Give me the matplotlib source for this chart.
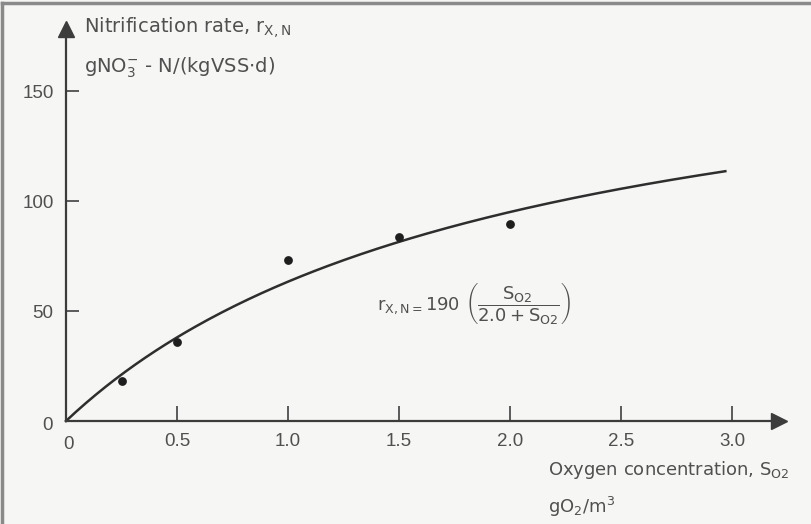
import matplotlib.pyplot as plt
import numpy as np

# measured points (oxygen gO2/m3, nitrification rate)
oxygen = [0.25, 0.5, 1.0, 1.5, 2.0]
rate = [18.2, 35.9, 73.2, 83.8, 89.5]

# model printed on the figure: r = r_max * S / (K + S)
r_max = 190.0
k_o2 = 2.0
s_end = 2.97

x_ticks = [0.5, 1.0, 1.5, 2.0, 2.5, 3.0]
x_tick_labels = ["0.5", "1.0", "1.5", "2.0", "2.5", "3.0"]
y_ticks = [50, 100, 150]

plt.rcParams["font.family"] = ["Liberation Sans", "DejaVu Sans"]
plt.rcParams["mathtext.fontset"] = "custom"
plt.rcParams["mathtext.rm"] = "DejaVu Sans"
plt.rcParams["mathtext.it"] = "DejaVu Sans"
plt.rcParams["mathtext.bf"] = "DejaVu Sans:bold"

ink = "#505050"
bg = "#f6f6f4"
axis_col = "#3c3c3c"
lab = dict(family="DejaVu Sans", fontsize=14, color=ink, va="baseline")

fig = plt.figure(figsize=(8.11, 5.24), dpi=100, facecolor=bg)
ax = fig.add_axes([0, 0, 1, 1])
ax.set_facecolor(bg)

# pixel mapping: x 0 -> 66px, 222 px/unit ; y 0 -> 421px from top, 2.2 px/unit
ax.set_xlim(-66 / 222, (811 - 66) / 222)
ax.set_ylim(-(524 - 421) / 2.2, 421 / 2.2)

for side in ["top", "right"]:
    ax.spines[side].set_visible(False)
ax.spines["left"].set_position(("data", 0))
ax.spines["bottom"].set_position(("data", 0))
ax.spines["left"].set_bounds(0, 175)
ax.spines["bottom"].set_bounds(0, 3.19)
for side in ["left", "bottom"]:
    ax.spines[side].set_color(axis_col)
    ax.spines[side].set_linewidth(1.6)
ax.plot(3.21, 0, marker=">", markersize=11, color=axis_col, clip_on=False)
ax.plot(0, 178, marker="^", markersize=11, color=axis_col, clip_on=False)

ax.set_xticks(x_ticks)
ax.set_xticklabels(x_tick_labels)
ax.set_yticks(y_ticks)
ax.tick_params(axis="x", direction="in", length=11, width=1.4, color="#5a5a5a",
               labelsize=13.5, labelcolor=ink, pad=9)
ax.tick_params(axis="y", direction="in", length=9, width=1.4, color="#5a5a5a",
               labelsize=13.5, labelcolor=ink, pad=9)
ax.text(0.01, -7, "0", ha="center", va="top", fontsize=13.5, color=ink)
ax.text(-0.06, -2, "0", ha="right", va="center", fontsize=13.5, color=ink)

s = np.linspace(0, s_end, 200)
ax.plot(s, r_max * s / (k_o2 + s), color="#2e2e2e", linewidth=1.8)
ax.scatter(oxygen, rate, s=28, color="#1e1e1e", zorder=3)

ax.text(0.081, 176.4, r"Nitrification rate, r$_{X,N}$", **lab)
ax.text(0.081, 158.2, r"gNO$_3^{-}$ - N/(kgVSS$\cdot$d)", **lab)
ax.text(2.17, -24.5, r"Oxygen concentration, S$_{O2}$",
        family="DejaVu Sans", fontsize=13, color=ink, va="baseline")
ax.text(2.17, -42, r"gO$_2$/m$^3$",
        family="DejaVu Sans", fontsize=13, color=ink, va="baseline")
ax.text(1.40, 50.5, r"r$_{X,N=}$190 $\left(\dfrac{S_{O2}}{2.0+S_{O2}}\right)$",
        family="DejaVu Sans", fontsize=13, color=ink, va="baseline")

# scan frame on left and top edges
fig.add_artist(plt.Line2D([0.003, 0.003], [0, 0.995], transform=fig.transFigure,
                          color="#8a8a8a", linewidth=2.5))
fig.add_artist(plt.Line2D([0.003, 1], [0.995, 0.995], transform=fig.transFigure,
                          color="#8a8a8a", linewidth=2.5))

fig.savefig("out.png", dpi=100, facecolor=bg)
plt.close(fig)
